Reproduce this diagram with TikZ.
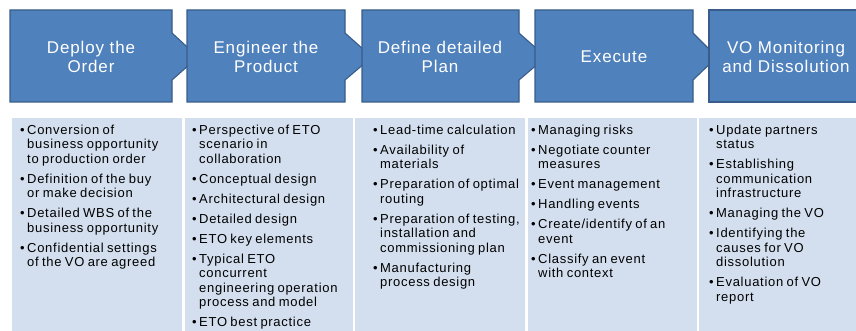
\documentclass[tikz,border=0pt]{standalone}
\usepackage{fontspec}
\setmainfont{Liberation Sans}[LetterSpace=5.5]
\newfontfamily\headfont{Liberation Sans}[LetterSpace=5]
\definecolor{boxblue}{HTML}{4F81BD}
\definecolor{boxedge}{HTML}{385D8A}
\definecolor{panelblue}{HTML}{D3DFEE}
\newcommand\itm[1]{\par\noindent\makebox[7pt][l]{\textbullet}\begin{tabular}[t]{@{}l@{}}#1\end{tabular}\par\vspace{5.5pt}}
\newcommand\listsetup{\fontsize{13}{14.5}\selectfont\setlength\lineskip{0pt}\setlength\lineskiplimit{0pt}}
\tikzset{
  stagebox/.style={fill=boxblue,draw=boxedge,line width=1.1pt,line join=miter},
  panel/.style={fill=panelblue,draw=none},
  headtxt/.style={text=white,align=center,inner sep=0pt,font=\headfont\fontsize{17}{19}\selectfont},
  listtxt/.style={anchor=north west,inner sep=0pt,text width=175pt,align=left}
}
\begin{document}
\begin{tikzpicture}[x=1pt,y=-1pt]
\useasboundingbox (0,0) rectangle (856,331);
\clip (0,0) rectangle (856,331);
\fill[white] (0,0) rectangle (856,331);
% stage boxes
\draw[stagebox] (10,10) -- (172,10) -- (172,33) -- (198,57) -- (172,80) -- (172,102) -- (10,102) -- cycle;
\draw[stagebox] (187,10) -- (345,10) -- (345,33) -- (372,57) -- (345,80) -- (345,102) -- (187,102) -- cycle;
\draw[stagebox] (362,10) -- (519,10) -- (519,33) -- (546,57) -- (519,80) -- (519,102) -- (362,102) -- cycle;
\draw[stagebox] (535,10) -- (693,10) -- (693,33) -- (717,57) -- (693,80) -- (693,102) -- (535,102) -- cycle;
\draw[stagebox] (709,10) -- (870,10) -- (870,102) -- (709,102) -- cycle;
\node[headtxt] (h1) at (91,57) {Deploy the\\Order};
\node[headtxt] (h2) at (266,57) {Engineer the\\Product};
\node[headtxt] (h3) at (440,57) {Define detailed\\Plan};
\node[headtxt] (h4) at (614,57) {Execute};
\node[headtxt] (h5) at (786,57) {VO Monitoring\\and Dissolution};
% panels
\fill[panel] (12,118) rectangle (182,331);
\fill[panel] (185,118) rectangle (353,331);
\fill[panel] (355,118) rectangle (525,331);
\fill[panel] (528,118) rectangle (697,331);
\fill[panel] (699,118) rectangle (856,331);
\node[listtxt] (l1) at (20,119.5) {\listsetup
\itm{Conversion of\\business opportunity\\to production order}%
\itm{Definition of the buy\\or make decision}%
\itm{Detailed WBS of the\\business opportunity}%
\itm{Confidential settings\\of the VO are agreed}};
\node[listtxt] (l2) at (192,119.5) {\listsetup
\itm{Perspective of ETO\\scenario in\\collaboration}%
\itm{Conceptual design}%
\itm{Architectural design}%
\itm{Detailed design}%
\itm{ETO key elements}%
\itm{Typical ETO\\concurrent\\engineering operation\\process and model}%
\itm{ETO best practice}};
\node[listtxt] (l3) at (373,119.5) {\listsetup
\itm{Lead-time calculation}%
\itm{Availability of\\materials}%
\itm{Preparation of optimal\\routing}%
\itm{Preparation of testing,\\installation and\\commissioning plan}%
\itm{Manufacturing\\process design}};
\node[listtxt] (l4) at (531,119.5) {\listsetup
\itm{Managing risks}%
\itm{Negotiate counter\\measures}%
\itm{Event management}%
\itm{Handling events}%
\itm{Create/identify of an\\event}%
\itm{Classify an event\\with context}};
\node[listtxt] (l5) at (709,119.5) {\listsetup
\itm{Update partners\\status}%
\itm{Establishing\\communication\\infrastructure}%
\itm{Managing the VO}%
\itm{Identifying the\\causes for VO\\dissolution}%
\itm{Evaluation of VO\\report}};
\end{tikzpicture}
\end{document}
